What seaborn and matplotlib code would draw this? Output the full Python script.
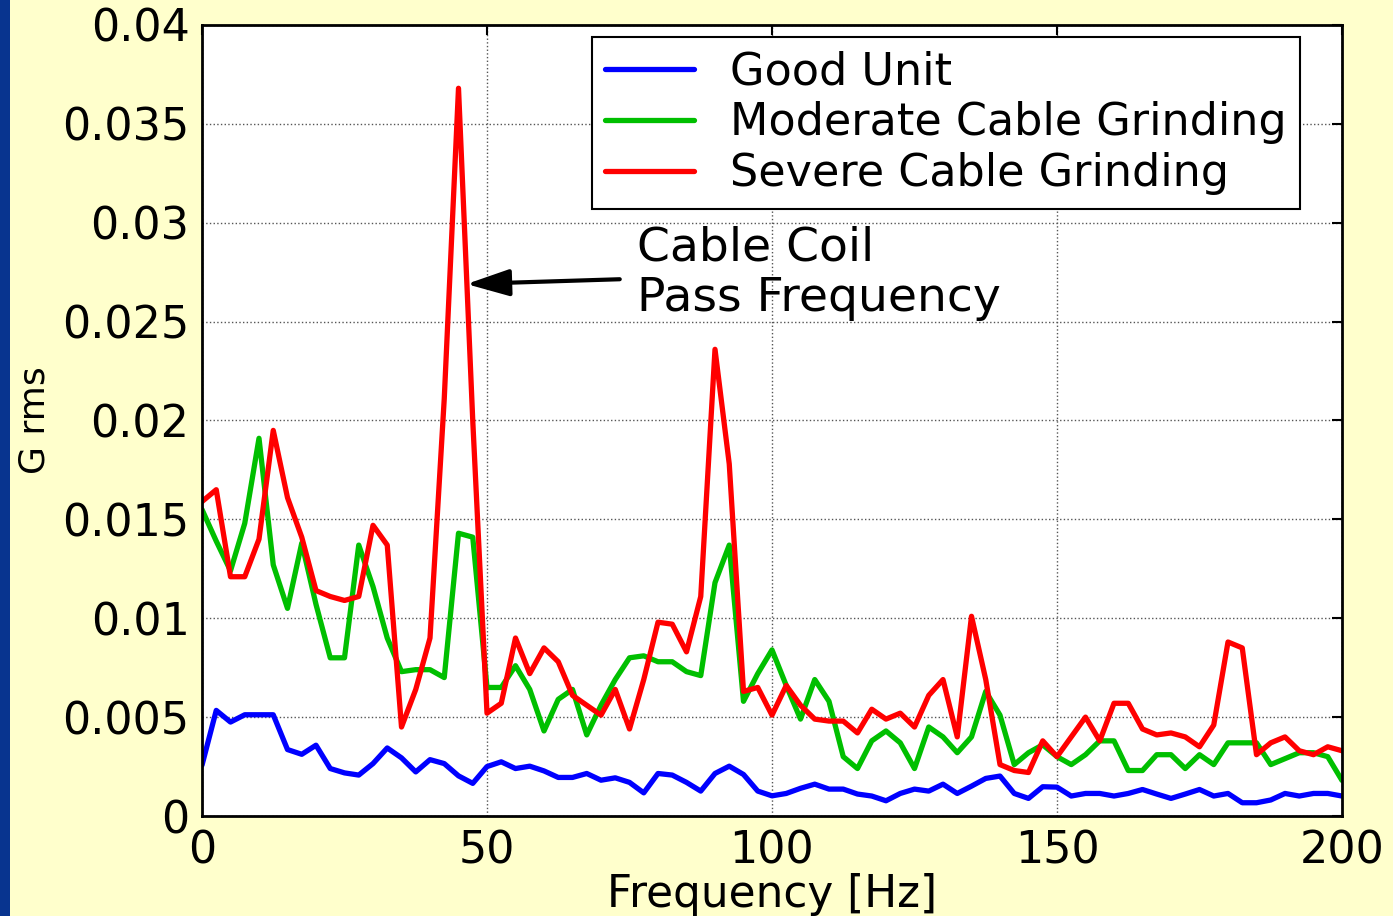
import numpy as np
import pandas as pd
import seaborn as sns
import matplotlib.pyplot as plt
from matplotlib.patches import Rectangle

# spectrum sampled every 2.5 Hz from 0 to 200 Hz
freq = np.arange(0, 200.1, 2.5)

good_unit = [0.00257, 0.00534, 0.00475, 0.00512, 0.00512, 0.00512, 0.00336, 0.00312, 0.00358, 0.0024,
             0.00218, 0.00207, 0.00265, 0.00344, 0.00294, 0.00223, 0.00285, 0.00265, 0.00203, 0.00165,
             0.0025, 0.00274, 0.0024, 0.00252, 0.00228, 0.00195, 0.00195, 0.00215, 0.00181, 0.00193,
             0.0017, 0.00117, 0.00215, 0.00207, 0.0017, 0.00126, 0.00215, 0.00252, 0.0021, 0.00126,
             0.00102, 0.00114, 0.0014, 0.00161, 0.00136, 0.00136, 0.00111, 0.00101, 0.00077, 0.00114,
             0.00136, 0.00126, 0.00161, 0.00114, 0.00151, 0.0019, 0.00202, 0.00114, 0.00089, 0.00148,
             0.00146, 0.00101, 0.00114, 0.00114, 0.00101, 0.00114, 0.00134, 0.00111, 0.00089, 0.00111,
             0.00134, 0.00101, 0.00114, 0.00067, 0.00067, 0.00081, 0.00114, 0.00101, 0.00114, 0.00114,
             0.00101]

moderate = [0.0155, 0.0139, 0.0124, 0.0148, 0.0191, 0.0127, 0.0105, 0.0138, 0.0107, 0.0080,
            0.0080, 0.0137, 0.0116, 0.0090, 0.0073, 0.0074, 0.0074, 0.0070, 0.0143, 0.0141,
            0.0065, 0.0065, 0.0076, 0.0064, 0.0043, 0.0059, 0.0064, 0.0041, 0.0056, 0.0069,
            0.0080, 0.0081, 0.0078, 0.0078, 0.0073, 0.0071, 0.0118, 0.0137, 0.0058, 0.0072,
            0.0084, 0.0066, 0.0049, 0.0069, 0.0058, 0.0030, 0.0024, 0.0038, 0.0043, 0.0037,
            0.0024, 0.0045, 0.0040, 0.0032, 0.0040, 0.0063, 0.0051, 0.0026, 0.0032, 0.0036,
            0.0030, 0.0026, 0.0031, 0.0038, 0.0038, 0.0023, 0.0023, 0.0031, 0.0031, 0.0024,
            0.0031, 0.0026, 0.0037, 0.0037, 0.0037, 0.0026, 0.0029, 0.0032, 0.0032, 0.0030,
            0.0018]

severe = [0.0159, 0.0165, 0.0121, 0.0121, 0.0140, 0.0195, 0.0161, 0.0141, 0.0114, 0.0111,
          0.0109, 0.0111, 0.0147, 0.0137, 0.0045, 0.0064, 0.0090, 0.0211, 0.0368, 0.0200,
          0.0052, 0.0057, 0.0090, 0.0072, 0.0085, 0.0078, 0.0061, 0.0056, 0.0051, 0.0064,
          0.0044, 0.0069, 0.0098, 0.0097, 0.0083, 0.0111, 0.0236, 0.0178, 0.0063, 0.0065,
          0.0051, 0.0066, 0.0056, 0.0049, 0.0048, 0.0048, 0.0042, 0.0054, 0.0049, 0.0052,
          0.0045, 0.0061, 0.0069, 0.0040, 0.0101, 0.0069, 0.0026, 0.0023, 0.0022, 0.0038,
          0.0030, 0.0040, 0.0050, 0.0038, 0.0057, 0.0057, 0.0044, 0.0041, 0.0042, 0.0040,
          0.0035, 0.0046, 0.0088, 0.0085, 0.0031, 0.0037, 0.0040, 0.0033, 0.0031, 0.0035,
          0.0033]

series_names = ['Good Unit', 'Moderate Cable Grinding', 'Severe Cable Grinding']
series_colors = ['#0000FF', '#00BF00', '#FF0000']
x_ticks = [0, 50, 100, 150, 200]
y_ticks = [0, 0.005, 0.01, 0.015, 0.02, 0.025, 0.03, 0.035, 0.04]

df = pd.concat([
    pd.DataFrame({'freq': freq, 'grms': vals, 'series': name})
    for name, vals in zip(series_names, [good_unit, moderate, severe])
])

sns.set_style('white')
plt.rcParams['font.family'] = ['DejaVu Sans']
plt.rcParams['text.color'] = 'black'
plt.rcParams['axes.labelcolor'] = 'black'
plt.rcParams['legend.labelcolor'] = 'black'

fig = plt.figure(figsize=(13.93, 9.16), dpi=100, facecolor='#FFFFCC')
ax = fig.add_axes([202 / 1393, 1 - 816 / 916, 1140 / 1393, 791 / 916])
ax.set_facecolor('white')

# dark blue strip on the left edge of the slide
fig.add_artist(Rectangle((0, 0), 10 / 1393, 1, transform=fig.transFigure,
                         facecolor='#08348F', edgecolor='none'))

sns.lineplot(data=df, x='freq', y='grms', hue='series', sort=False,
             palette=dict(zip(series_names, series_colors)), linewidth=3.8, ax=ax)

ax.set_xlim(0, 200)
ax.set_ylim(0, 0.04)
ax.set_xticks(x_ticks)
ax.set_yticks(y_ticks)
ax.set_yticklabels([f'{v:g}' for v in y_ticks])
ax.tick_params(axis='both', direction='in', length=7, width=1.5, top=True, right=True,
               labelsize=32, colors='black')
ax.tick_params(axis='x', pad=10)
ax.tick_params(axis='y', pad=9)
ax.grid(True, linestyle=':', color='#555555', linewidth=1)
for sp in ax.spines.values():
    sp.set_color('black')
    sp.set_linewidth(2)

ax.set_xlabel('Frequency [Hz]', fontsize=31.5, labelpad=0, color='black')
ax.set_ylabel('G rms', fontsize=26, labelpad=8, color='black')

handles, labels = ax.get_legend_handles_labels()
leg = ax.legend(handles, labels, loc='upper center', bbox_to_anchor=(0.6526, 0.9848),
                fontsize=32, frameon=True, fancybox=False, framealpha=1, edgecolor='black',
                borderpad=0.3, labelspacing=0.18, handlelength=2.0, handletextpad=0.8,
                borderaxespad=0)
leg.get_frame().set_linewidth(1.5)
for t in leg.get_texts():
    t.set_color('black')

ax.annotate('Cable Coil\nPass Frequency', xy=(46.4, 0.0269), xytext=(76.3, 0.02746),
            ha='left', va='center', fontsize=34, linespacing=1.15, color='black',
            arrowprops=dict(arrowstyle='-|>,head_length=0.8,head_width=0.25',
                            color='black', lw=3, mutation_scale=33, shrinkA=10, shrinkB=0))

fig.savefig('out.png', dpi=100, facecolor=fig.get_facecolor())
